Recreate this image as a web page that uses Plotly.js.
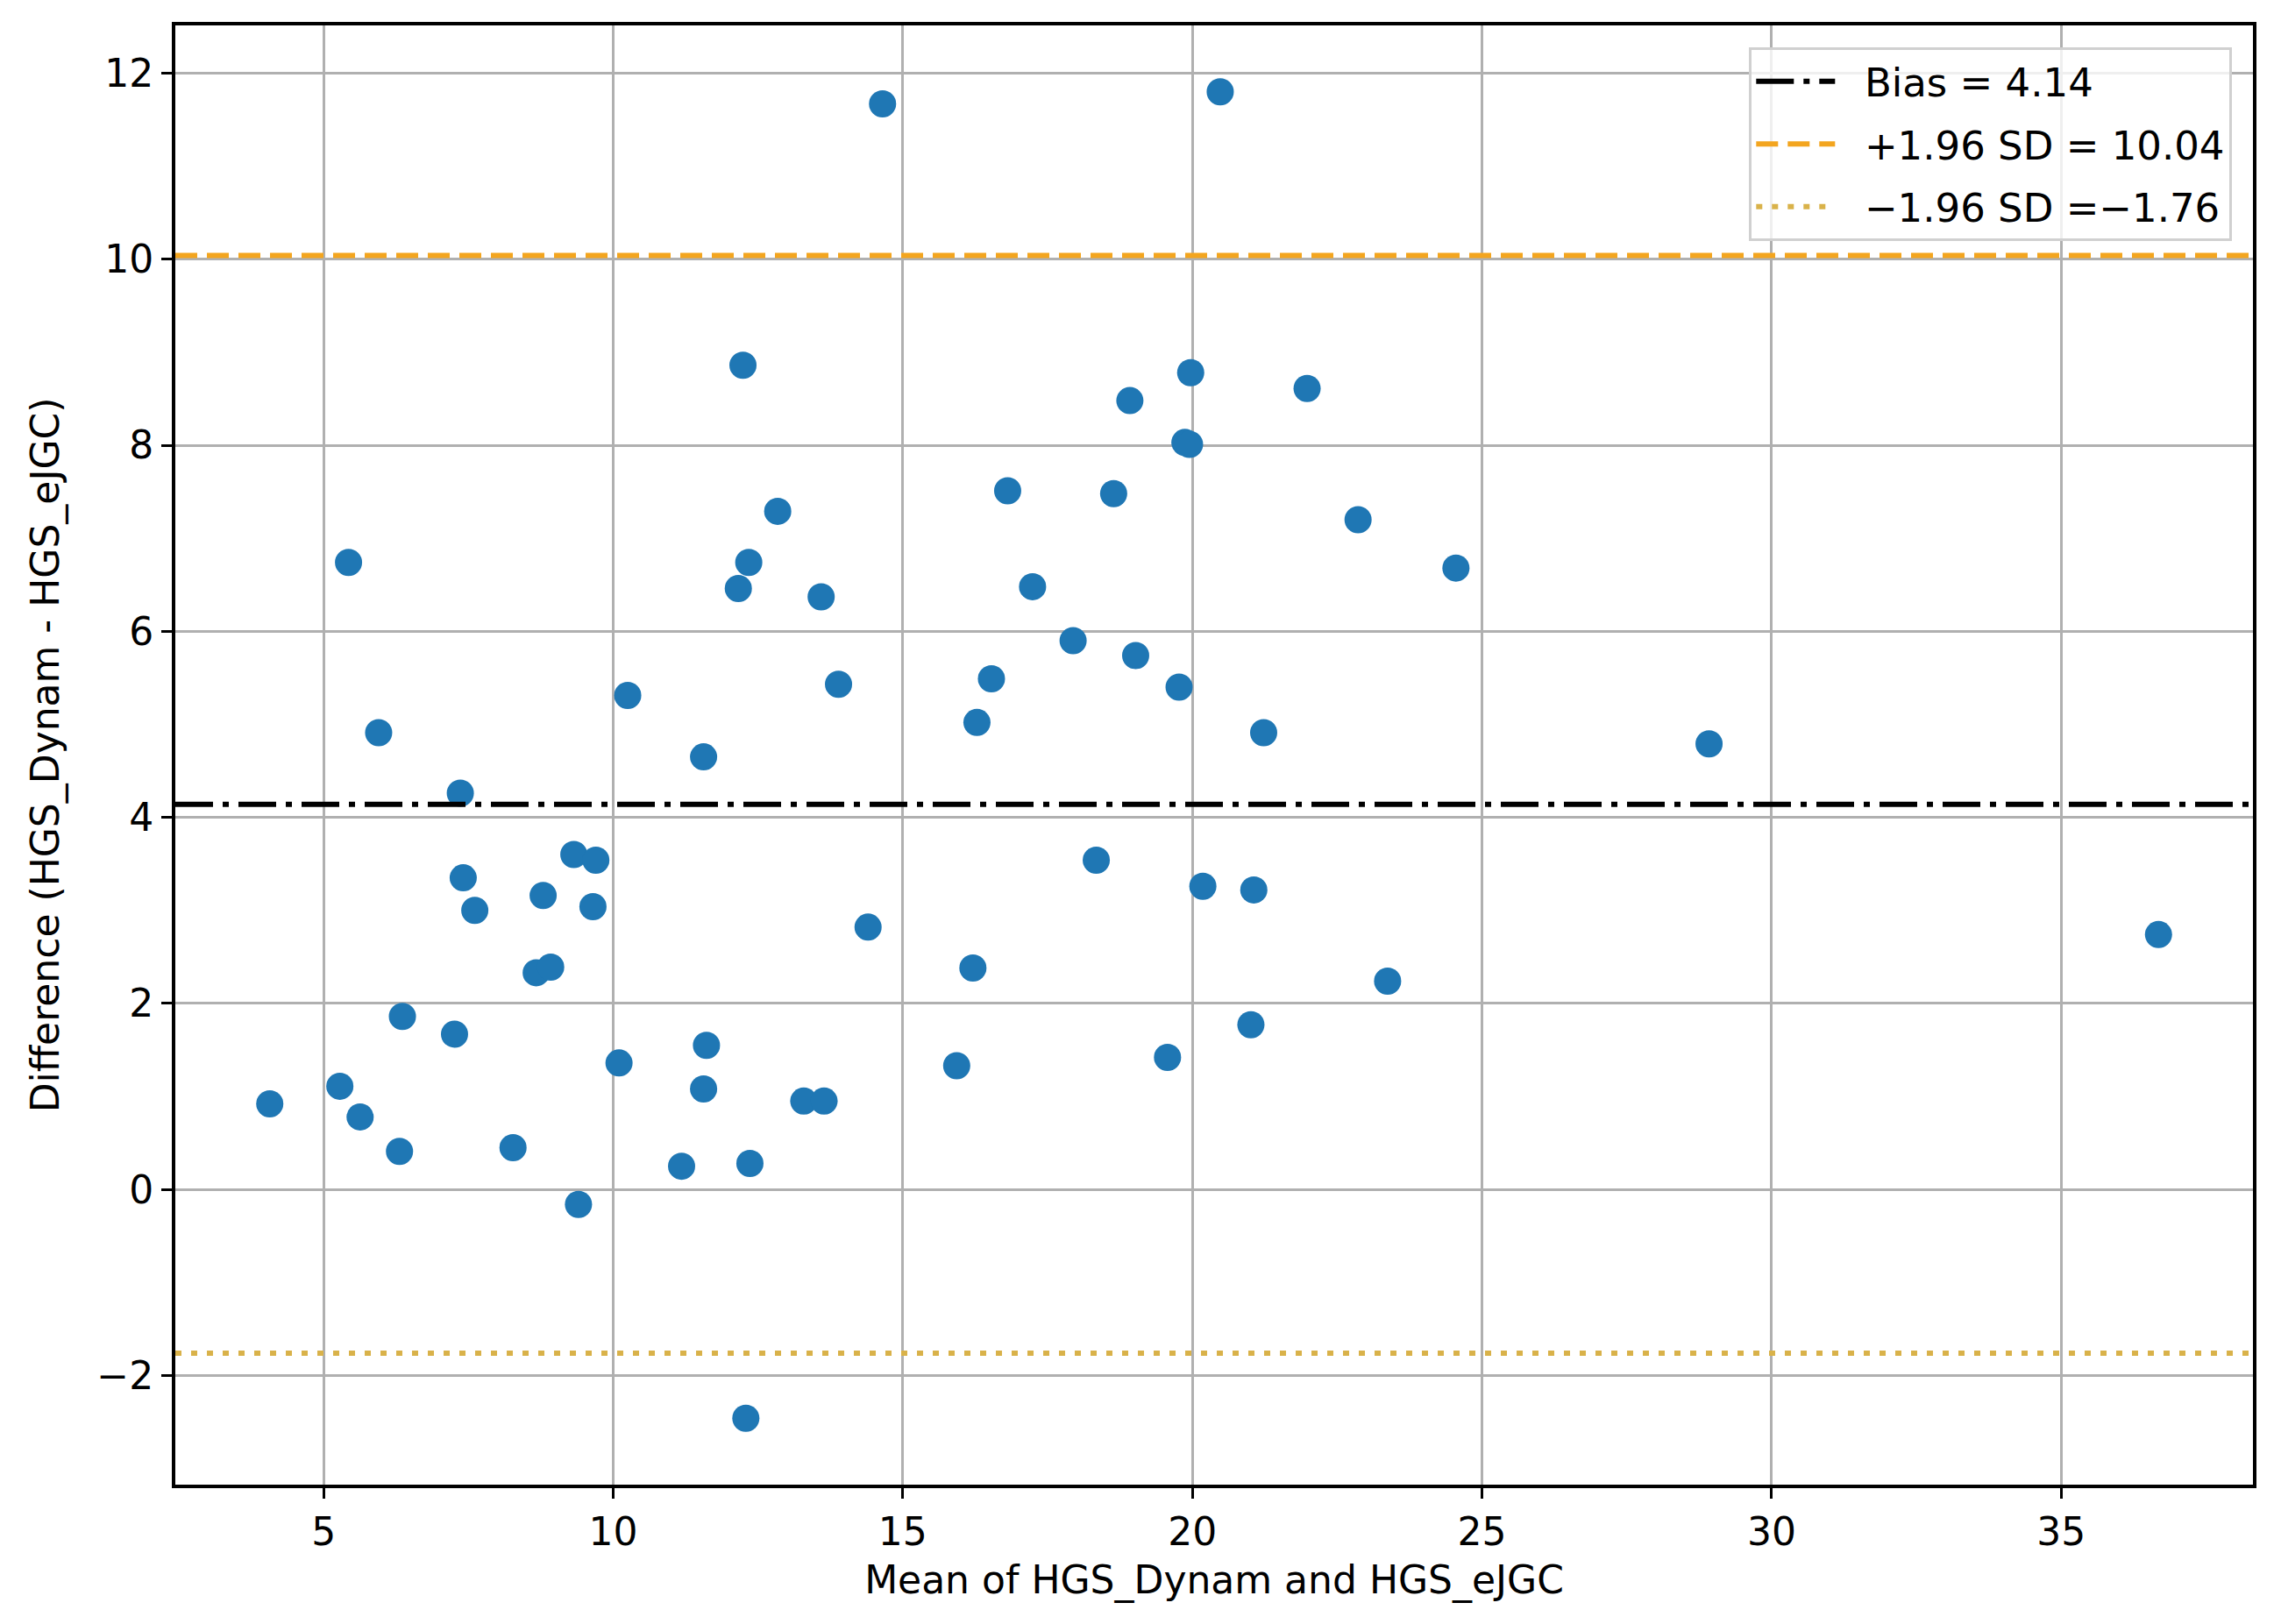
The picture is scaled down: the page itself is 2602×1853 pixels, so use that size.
<!DOCTYPE html>
<html>
<head>
<meta charset="utf-8">
<script src="https://cdn.plot.ly/plotly-3.0.1.min.js"></script>
<style>body{margin:0;background:#fff}</style>
</head>
<body>
<div id="chart" style="width:2602px;height:1853px"></div>
<script>
// Bland-Altman: mean of the two grip readings vs their difference
var meanVals = [4.07, 5.43, 5.28, 5.63, 5.95, 6.36, 6.31, 7.26, 7.36, 7.41,
                7.61, 8.27, 8.67, 8.92, 8.79, 9.32, 9.70, 9.65, 9.40, 10.10,
                10.25, 11.18, 11.56, 11.56, 11.61, 12.16, 12.24, 12.34, 12.36, 12.29,
                12.84, 13.29, 13.64, 13.59, 13.89, 14.40, 14.65, 15.93, 16.21, 16.28,
                16.53, 16.81, 17.24, 17.94, 18.34, 18.64, 18.92, 19.02, 19.57, 19.77,
                19.87, 19.95, 19.97, 20.48, 20.18, 21.01, 21.06, 21.23, 21.98, 22.86,
                23.37, 24.55, 28.92, 36.68];
var diffVals = [0.92, 6.74, 1.11, 0.78, 4.91, 1.86, 0.41, 1.67, 4.26, 3.35,
                3.00, 0.45, 2.33, 2.39, 3.16, 3.60, 3.54, 3.04, -0.16, 1.36,
                5.31, 0.25, 4.65, 1.08, 1.55, 6.46, 8.86, 6.74, 0.28, -2.46,
                7.29, 0.95, 0.95, 6.37, 5.43, 2.82, 11.67, 1.33, 2.38, 5.02,
                5.49, 7.51, 6.48, 5.90, 3.54, 7.48, 8.48, 5.74, 1.42, 5.40,
                8.03, 8.01, 8.78, 11.80, 3.26, 1.77, 3.22, 4.91, 8.61, 7.20,
                2.24, 6.68, 4.79, 2.74];

var bias = 4.14;
var upperLoA = 10.04;
var lowerLoA = -1.76;

var xTicks = [5, 10, 15, 20, 25, 30, 35];
var yTicks = [-2, 0, 2, 4, 6, 8, 10, 12];

function fmt(v) {
  return (v < 0 ? '\u2212' : '') + Math.abs(v).toFixed(2);
}

// matplotlib style 5% padding
function padRange(vals) {
  var lo = Math.min.apply(null, vals), hi = Math.max.apply(null, vals);
  var m = (hi - lo) * 0.05;
  return [lo - m, hi + m];
}

var font = { family: 'DejaVu Sans', size: 44, color: '#000' };
var gap = '\u00a0\u00a0'; // space between legend line and label

var trace = {
  x: meanVals,
  y: diffVals,
  type: 'scatter',
  mode: 'markers',
  marker: { color: '#1f77b4', size: 31 },
  showlegend: false,
  hoverinfo: 'skip'
};

function hline(y, color, dash, label, grp) {
  return {
    type: 'line', xref: 'paper', x0: 0, x1: 1, yref: 'y', y0: y, y1: y,
    line: { color: color, width: 6, dash: dash },
    showlegend: true, name: gap + label, legendgroup: grp
  };
}

var layout = {
  width: 2602, height: 1853,
  paper_bgcolor: '#fff', plot_bgcolor: '#fff',
  font: font,
  margin: { l: 200, r: 32, t: 29, b: 159 },
  xaxis: {
    range: padRange(meanVals), tickvals: xTicks,
    showgrid: true, gridcolor: '#b0b0b0', gridwidth: 3,
    zeroline: false, showline: true, linecolor: '#000', linewidth: 4, mirror: true,
    ticks: 'outside', ticklen: 12, tickwidth: 3, tickcolor: '#000',
    tickfont: font,
    title: { text: 'Mean of HGS_Dynam and HGS_eJGC', font: font, standoff: 16 }
  },
  yaxis: {
    range: padRange(diffVals), tickvals: yTicks,
    showgrid: true, gridcolor: '#b0b0b0', gridwidth: 3,
    zeroline: false, showline: true, linecolor: '#000', linewidth: 4, mirror: true,
    ticks: 'outside', ticklen: 12, tickwidth: 3, tickcolor: '#000',
    tickfont: font,
    title: { text: 'Difference (HGS_Dynam - HGS_eJGC)', font: font, standoff: 30 }
  },
  shapes: [
    hline(bias, '#000', '43px,11px,7px,11px', 'Bias = ' + fmt(bias), 'a'),
    hline(upperLoA, '#f3a51f', '25px,11px', '+1.96 SD = ' + fmt(upperLoA), 'b'),
    hline(lowerLoA, '#d9b24a', '7px,11px', '\u22121.96 SD =' + fmt(lowerLoA), 'c')
  ],
  legend: {
    x: 0.99, y: 0.985, xanchor: 'right', yanchor: 'top',
    bgcolor: 'rgba(255,255,255,0.8)', bordercolor: '#d0d0d0', borderwidth: 3,
    font: { family: 'DejaVu Sans', size: 45, color: '#000' },
    itemwidth: 90, tracegroupgap: 10, traceorder: 'grouped'
  }
};

Plotly.newPlot('chart', [trace], layout, { staticPlot: true });
</script>
</body>
</html>
